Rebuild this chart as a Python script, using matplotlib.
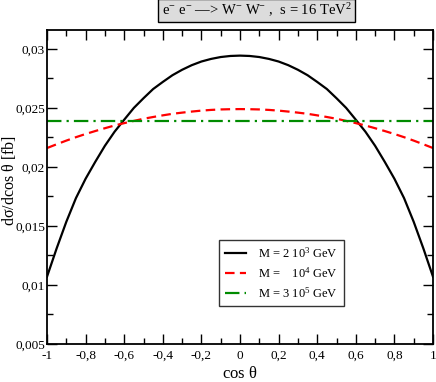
import matplotlib
matplotlib.use("Agg")
import matplotlib.pyplot as plt
from matplotlib.ticker import MultipleLocator, FixedLocator, FixedFormatter

plt.rcParams['font.family'] = ['Liberation Serif', 'DejaVu Serif']
plt.rcParams['mathtext.fontset'] = 'custom'
plt.rcParams['mathtext.rm'] = 'Liberation Serif'
plt.rcParams['mathtext.it'] = 'Liberation Serif:italic'

cos_theta = [-1.0, -0.95, -0.9, -0.85, -0.8, -0.75, -0.7, -0.65, -0.6, -0.55, -0.5, -0.45, -0.4,
             -0.35, -0.3, -0.25, -0.2, -0.15, -0.1, -0.05, 0.0,
             0.05, 0.1, 0.15, 0.2, 0.25, 0.3, 0.35, 0.4, 0.45, 0.5, 0.55, 0.6, 0.65, 0.7,
             0.75, 0.8, 0.85, 0.9, 0.95, 1.0]
m_2e3_half = [0.02943, 0.02940, 0.02931, 0.02915, 0.02893, 0.02862, 0.02823, 0.02777, 0.0272,
              0.0266, 0.02582, 0.025, 0.0240, 0.02298, 0.02179, 0.02043, 0.0190, 0.01736,
              0.01535, 0.0131, 0.0107]
m_1e4_half = [0.0249, 0.02489, 0.02487, 0.02483, 0.02477, 0.02469, 0.0246, 0.0245, 0.02437,
              0.02423, 0.02408, 0.0239, 0.02371, 0.02351, 0.02328, 0.02304, 0.02279, 0.02252,
              0.02223, 0.02192, 0.0216]
m_2e3 = m_2e3_half[::-1] + m_2e3_half[1:]
m_1e4 = m_1e4_half[::-1] + m_1e4_half[1:]
m_3e5 = [0.0239] * len(cos_theta)

labels = [r"M = 2 10$^{3}$ GeV", r"M =    10$^{4}$ GeV", r"M = 3 10$^{5}$ GeV"]
xticks = [-1, -0.8, -0.6, -0.4, -0.2, 0, 0.2, 0.4, 0.6, 0.8, 1]
xticklabels = ["-1", "-0,8", "-0,6", "-0,4", "-0,2", "0", "0,2", "0,4", "0,6", "0,8", "1"]
yticks = [0.005, 0.01, 0.015, 0.02, 0.025, 0.03]
yticklabels = ["0,005", "0,01", "0,015", "0,02", "0,025", "0,03"]

fig = plt.figure(figsize=(4.36, 3.82), dpi=100)
ax = fig.add_axes([47/436, 1-344/382, (433-47)/436, (344-30)/382])

ax.plot(cos_theta, m_2e3, color='black', lw=1.6, label=labels[0])
ax.plot(cos_theta, m_1e4, color='#ff0000', lw=1.6, dashes=(4.3, 2.4), label=labels[1])
ax.plot(cos_theta, m_3e5, color='#008b00', lw=1.6, dashes=(6.5, 2.3, 1.0, 2.3), label=labels[2])

ax.set_xlim(-1, 1)
ax.set_ylim(0.005, 0.0316)
ax.xaxis.set_major_locator(FixedLocator(xticks))
ax.xaxis.set_major_formatter(FixedFormatter(xticklabels))
ax.yaxis.set_major_locator(FixedLocator(yticks))
ax.yaxis.set_major_formatter(FixedFormatter(yticklabels))
ax.xaxis.set_minor_locator(MultipleLocator(0.1))
ax.yaxis.set_minor_locator(MultipleLocator(0.0025))
ax.tick_params(which='both', direction='in', top=True, right=True, labelsize=9.5, width=1)
ax.tick_params(which='major', length=7)
ax.tick_params(which='minor', length=4)
ax.tick_params(axis='x', pad=4)
ax.tick_params(axis='y', pad=1.5)
for s in ax.spines.values():
    s.set_linewidth(1.3)

ax.set_xlabel(r"cos $\mathregular{\theta}$", fontsize=12)
ax.xaxis.set_label_coords(0.5, (344-366)/314)
ax.set_ylabel(r"d$\mathregular{\sigma}$/dcos $\mathregular{\theta}$ [fb]", fontsize=11.5,
              va='center')
ax.yaxis.set_label_coords((9-47)/386, 0.52)

leg = ax.legend(loc='upper left', bbox_to_anchor=((219-47)/386, (344-240)/314), fontsize=9,
                frameon=True, fancybox=False, edgecolor='black', handlelength=1.7,
                borderpad=0.45, labelspacing=0.45, handletextpad=1.0, borderaxespad=0)
leg.get_frame().set_linewidth(1.0)

fig.text(256.5/436, 1-10.5/382,
         "e$^{\\mathregular{-}}$ e$^{\\mathregular{-}}$ \u2014> W$^{\\mathregular{-}}$ W$^{\\mathregular{-}}$ ,  s = 16 TeV$^{2}$",
         ha='center', va='center', fontsize=10.5,
         bbox=dict(boxstyle='square,pad=0.22', facecolor='#dcdcdc', edgecolor='black', lw=1.0))

fig.savefig("out.png", dpi=100)
